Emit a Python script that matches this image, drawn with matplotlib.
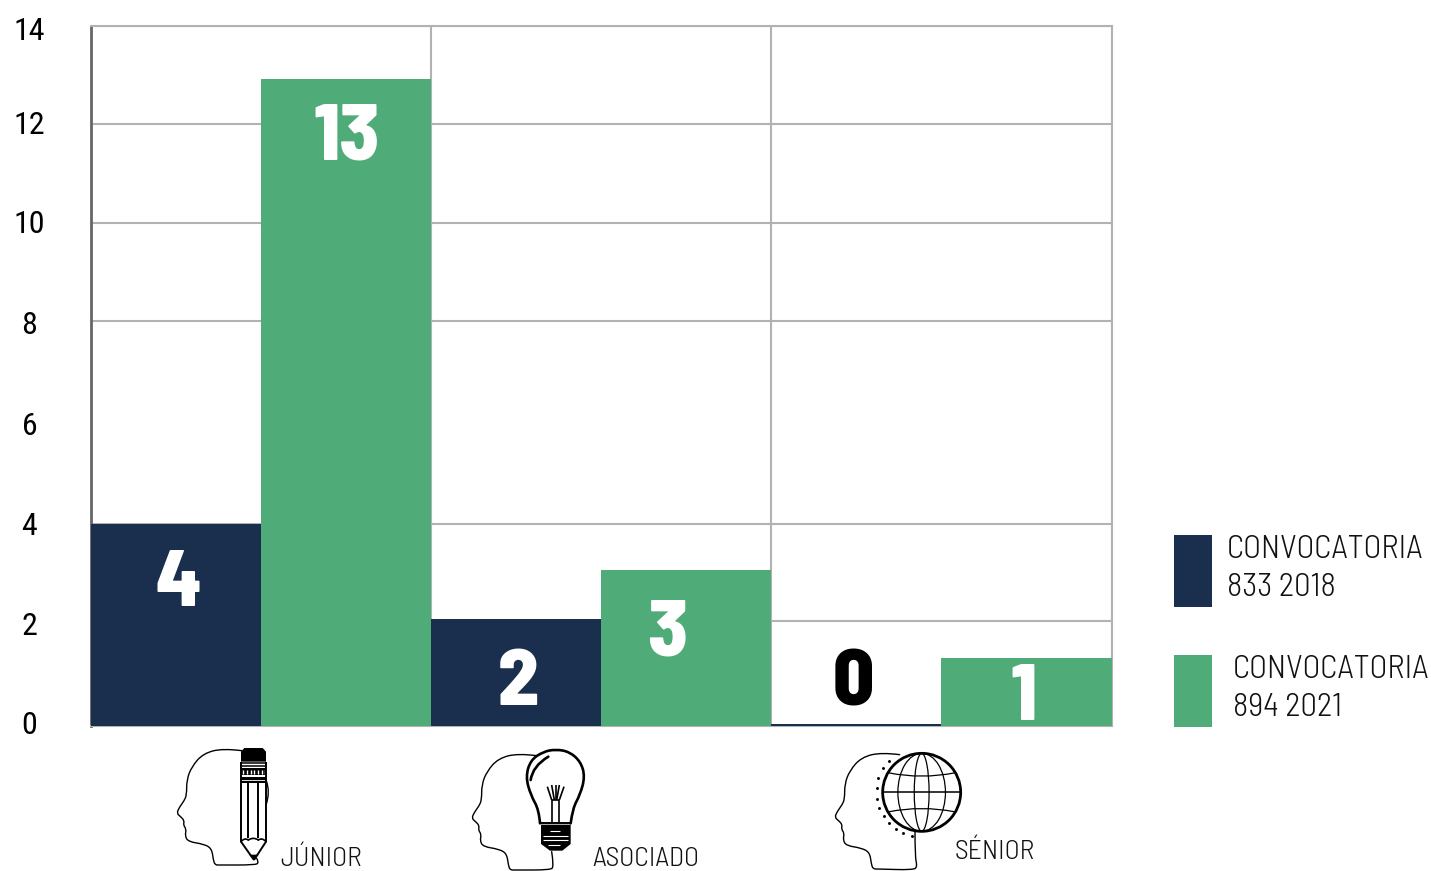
import numpy as np
import matplotlib
matplotlib.use("Agg")
import matplotlib.pyplot as plt
from matplotlib.path import Path
from matplotlib.patches import PathPatch, Circle, Ellipse, Polygon, Rectangle

FONT = ['Barlow Semi Condensed', 'Liberation Sans', 'DejaVu Sans']
TICK_FONT = ['Roboto Condensed', 'Barlow Semi Condensed', 'DejaVu Sans']

categories = ['JÚNIOR', 'ASOCIADO', 'SÉNIOR']
series_names = ['CONVOCATORIA\n833 2018', 'CONVOCATORIA\n894 2021']
labels_2018 = ['4', '2', '0']
labels_2021 = ['13', '3', '1']
# bar heights as drawn in the picture, in axis units
drawn_2018 = [4.04, 2.14, 0.05]
drawn_2021 = [12.94, 3.12, 1.36]
grid_levels = [0, 2.1, 4.04, 6.06, 8.1, 10.06, 12.04, 14]
tick_levels = [0.08, 2.06, 4.06, 6.06, 8.08, 10.1, 12.06, 13.94]
tick_labels = ['0', '2', '4', '6', '8', '10', '12', '14']

NAVY = '#1A2F4D'
GREEN = '#4FAB78'
GRID = '#B2B2B2'

W, H = 1431, 871
fig = plt.figure(figsize=(W / 100, H / 100), dpi=100, facecolor='white')
ax = fig.add_axes([90.5 / W, 1 - 726 / H, (1111.5 - 90.5) / W, 700 / H])
x = np.arange(3)
w = 0.5
ax.bar(x + 0.25, drawn_2018, w, color=NAVY, zorder=3)
ax.bar(x + 0.75, drawn_2021, w, color=GREEN, zorder=3)
ax.set_xlim(0, 3)
ax.set_ylim(0, 14)
ax.set_xticks([])
ax.set_xticks([1, 2, 3], minor=True)
ax.set_yticks(tick_levels, tick_labels, fontsize=23, family=TICK_FONT)
ax.set_yticks(grid_levels, minor=True)
ax.tick_params(axis='y', which='major', length=0, pad=44, labelcolor='black')
for t in ax.get_yticklabels():
    t.set_ha('center')
ax.tick_params(which='minor', length=0)
ax.grid(which='minor', color=GRID, lw=1.5, zorder=1)
ax.grid(which='major', visible=False)
for side in ['top', 'right', 'bottom']:
    ax.spines[side].set_color(GRID)
    ax.spines[side].set_linewidth(1.5)
ax.spines['left'].set_color('#666666')
ax.spines['left'].set_linewidth(2)

# overlay in pixel coordinates for value labels, legend, captions, icons
ov = fig.add_axes([0, 0, 1, 1], facecolor='none')
ov.set_xlim(0, W)
ov.set_ylim(H, 0)
ov.axis('off')

val_kw = dict(ha='center', va='center_baseline', fontsize=58, fontweight=800, family=FONT)
pos_2018 = [(178, 578), (518, 677), (853, 677)]
pos_2021 = [(347, 131), (667, 627), (1024, 692)]
col_2018 = ['white', 'white', 'black']
for (px, py), s, c in zip(pos_2018, labels_2018, col_2018):
    ov.text(px, py, s, color=c, **val_kw)
for (px, py), s in zip(pos_2021, labels_2021):
    ov.text(px, py, s, color='white', **val_kw)

leg_kw = dict(fontsize=23.7, fontweight=300, family=FONT, color='#111111', ha='left', va='center', linespacing=1.33)
ov.add_patch(Rectangle((1174, 535), 38, 72, color=NAVY, lw=0))
ov.add_patch(Rectangle((1174, 655), 38, 72, color=GREEN, lw=0))
ov.text(1227, 569, series_names[0], **leg_kw)
ov.text(1233, 689, series_names[1], **leg_kw)

cat_kw = dict(fontsize=20, fontweight=300, family=FONT, color='#111111', ha='left', va='center')
ov.text(280, 859, categories[0], **cat_kw)
ov.text(592, 859, categories[1], **cat_kw)
ov.text(955, 852, categories[2], **cat_kw)


def smooth(pts, ox, oy, lw=1.0, color='black'):
    p = [(ox + a / 3, oy + b / 3) for a, b in pts]
    verts = [p[0]]
    codes = [Path.MOVETO]
    for i in range(1, len(p) - 1):
        end = p[-1] if i == len(p) - 2 else ((p[i][0] + p[i + 1][0]) / 2, (p[i][1] + p[i + 1][1]) / 2)
        verts += [p[i], end]
        codes += [Path.CURVE3, Path.CURVE3]
    ov.add_patch(PathPatch(Path(verts, codes), fc='none', ec=color, lw=lw, capstyle='round'))


def line(ox, oy, a, b, lw=1.2, color='black'):
    ov.plot([ox + a[0] / 3, ox + b[0] / 3], [oy + a[1] / 3, oy + b[1] / 3], color=color, lw=lw,
            solid_capstyle='butt')


def poly(ox, oy, pts, fc='black', ec='none', lw=0):
    ov.add_patch(Polygon([(ox + a / 3, oy + b / 3) for a, b in pts], closed=True, fc=fc, ec=ec, lw=lw))


head = [(245, 62), (190, 55), (130, 70), (95, 110), (80, 150), (80, 195), (72, 213), (58, 232),
        (50, 250), (62, 260), (73, 272), (70, 285), (79, 298), (75, 318), (85, 335), (130, 342),
        (155, 355), (160, 390), (165, 405), (180, 405), (285, 405), (297, 398), (290, 385)]

# Junior: head + pencil
ox, oy = 160, 730
smooth(head, ox, oy)
smooth([(318, 150), (332, 185), (318, 225)], ox, oy)
poly(ox, oy, [(243, 65), (253, 54), (308, 54), (318, 65), (318, 95), (243, 95)])
for yy in (100, 108):
    line(ox, oy, (243, yy), (318, yy), lw=1.1)
poly(ox, oy, [(243, 115), (318, 115), (318, 135), (243, 135)])
for xx in range(250, 318, 11):
    line(ox, oy, (xx, 121), (xx, 132), lw=1.0, color='white')
poly(ox, oy, [(243, 142), (318, 142), (318, 160), (243, 160)])
line(ox, oy, (243, 150), (318, 150), lw=0.6, color='white')
for xx in (243, 318):
    line(ox, oy, (xx, 95), (xx, 335), lw=1.4)
for xx in (265, 295):
    line(ox, oy, (xx, 160), (xx, 325), lw=1.4)
smooth([(243, 335), (254, 322), (265, 330)], ox, oy, lw=1.2)
smooth([(265, 330), (280, 320), (295, 330)], ox, oy, lw=1.2)
smooth([(295, 330), (307, 322), (318, 335)], ox, oy, lw=1.2)
line(ox, oy, (243, 335), (282, 390), lw=1.4)
line(ox, oy, (318, 335), (282, 390), lw=1.4)
poly(ox, oy, [(267, 374), (296, 374), (282, 390)])

# Asociado: head + bulb
h2 = [(a + 885, b + 15) for a, b in head[:-3]] + [(1170, 420), (1182, 410), (1175, 365)]
smooth(h2, ox, oy)
bulb = [(1140, 280), (1137, 240), (1112, 195), (1097, 140), (1112, 90), (1150, 65), (1187, 58),
        (1228, 65), (1262, 95), (1275, 140), (1260, 195), (1238, 235), (1232, 280)]
smooth(bulb, ox, oy, lw=1.9)
line(ox, oy, (1138, 280), (1234, 280), lw=1.4)
smooth([(1112, 150), (1118, 108), (1165, 80)], ox, oy, lw=1.9)
poly(ox, oy, [(1143, 284), (1232, 284), (1232, 342), (1207, 362), (1170, 362), (1143, 342)])
for yy, a, b in [(304, 1170, 1200), (317, 1150, 1225), (330, 1150, 1225), (345, 1165, 1200)]:
    line(ox, oy, (a, yy), (b, yy), lw=0.8, color='white')
for xx in (1175, 1198):
    line(ox, oy, (xx, 210), (xx, 280), lw=1.2)
for a, b in [((1162, 170), (1175, 210)), ((1212, 170), (1198, 210)), ((1175, 165), (1183, 210)),
             ((1198, 165), (1190, 210)), ((1187, 165), (1187, 210)), ((1175, 210), (1198, 210))]:
    line(ox, oy, a, b, lw=1.2)

# Senior: head + globe
ox, oy = 600, 730
h3 = [(a + 654, b + 12) for a, b in head[:-3]] + [(940, 420), (952, 410), (945, 380), (945, 305)]
smooth(h3, ox, oy)
cx, cy = ox + 965 / 3, oy + 187 / 3
R = 117 / 3
ov.add_patch(Circle((cx, cy), R, fc='white', ec='black', lw=2.0, zorder=4))
for wd in (R * 1.22, R * 0.38):
    ov.add_patch(Ellipse((cx, cy), wd, 2 * R, fc='none', ec='black', lw=0.9, zorder=5))
ov.plot([cx - R, cx + R], [cy, cy], color='black', lw=1.1, zorder=5)
for sign in (-1, 1):
    ov.add_patch(PathPatch(Path([(cx - R * 0.85, cy + sign * R * 0.5),
                                 (cx, cy + sign * R * 0.33),
                                 (cx + R * 0.85, cy + sign * R * 0.5)],
                                [Path.MOVETO, Path.CURVE3, Path.CURVE3]),
                           fc='none', ec='black', lw=0.9, zorder=5))
dots = [(867, 92), (850, 115), (835, 143), (830, 175), (830, 207), (838, 235), (852, 258),
        (868, 280), (888, 298), (910, 310), (935, 317)]
ov.scatter([ox + a / 3 for a, b in dots], [oy + b / 3 for a, b in dots], s=4.5, color='black', lw=0, zorder=6)

fig.savefig('out.png', dpi=100)
